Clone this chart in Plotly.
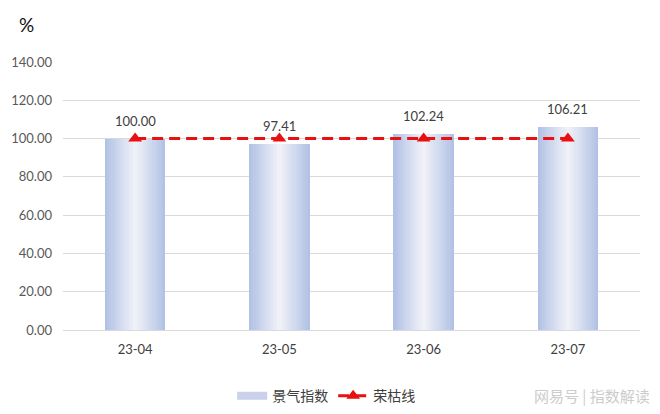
import plotly.graph_objects as go

categories = ["23-04", "23-05", "23-06", "23-07"]
index_values = [100.00, 97.41, 102.24, 106.21]
threshold_values = [100, 100, 100, 100]
y_ticks = [0, 20, 40, 60, 80, 100, 120, 140]
bar_name = "景气指数"
line_name = "荣枯线"

NUM_FONT = "Lato, 'Noto Sans CJK SC', sans-serif"
CJK_FONT = "'Noto Sans CJK SC', sans-serif"

fig = go.Figure()

# gradient bars: overlaid layers, darker at the edges, lighter at the centre
edge = (178, 194, 230)
centre = (240, 241, 247)
n_layers = 14
full_w = 0.42
for i in range(n_layers):
    t = i / (n_layers - 1)
    r = round(edge[0] + (centre[0] - edge[0]) * t)
    g = round(edge[1] + (centre[1] - edge[1]) * t)
    b = round(edge[2] + (centre[2] - edge[2]) * t)
    w = full_w * (1 - t * 0.93)
    fig.add_trace(go.Bar(
        x=categories, y=index_values, width=w,
        marker=dict(color=f"rgb({r},{g},{b})", line=dict(width=0)),
        name=bar_name, showlegend=False, legendgroup="bar",
    ))

# legend entry for the bars (wide light-blue swatch)
fig.add_trace(go.Scatter(
    x=[None], y=[None], mode="lines", name=bar_name, legendgroup="bar",
    line=dict(color="#c9d2ea", width=8),
))

fig.add_trace(go.Scatter(
    x=categories, y=threshold_values, mode="lines+markers", name=line_name,
    line=dict(color="#e81010", width=3, dash="11px,6px"),
    marker=dict(symbol="triangle-up", size=12, color="#e81010"),
))

for c, v in zip(categories, index_values):
    fig.add_annotation(x=c, y=v, text=f"{v:.2f}", showarrow=False,
                       yanchor="bottom", yshift=8,
                       font=dict(family=NUM_FONT, size=13, color="#404040"))

fig.add_annotation(xref="paper", yref="paper", x=-0.08, y=1.09, xanchor="left",
                   yanchor="bottom", text="%", showarrow=False,
                   font=dict(family=NUM_FONT, size=19, color="#111111"))
fig.add_annotation(xref="paper", yref="paper", x=1.021, y=-0.245, xanchor="right",
                   yanchor="middle", text="网易号 | 指数解读", showarrow=False,
                   font=dict(family=CJK_FONT, size=15, color="#cccccc"))

fig.update_layout(
    width=652, height=406,
    margin=dict(l=55, r=20, t=54, b=84, autoexpand=False),
    paper_bgcolor="white", plot_bgcolor="white",
    barmode="overlay", bargap=0,
    showlegend=True,
    legend=dict(orientation="h", xref="container", yref="container",
                x=0.488, xanchor="center", y=0.044, yanchor="middle",
                font=dict(family=CJK_FONT, size=14, color="#404040"),
                itemwidth=30, tracegroupgap=0),
    xaxis=dict(type="category", showgrid=False, showline=False, ticks="",
               automargin=False, ticklabelstandoff=10,
               tickfont=dict(family=NUM_FONT, size=13, color="#404040")),
    yaxis=dict(range=[0, 140], tickvals=y_ticks, automargin=False,
               ticktext=[f"{t:.2f}" for t in y_ticks],
               showgrid=True, gridcolor="#d9d9d9", gridwidth=1,
               zeroline=True, zerolinecolor="#d9d9d9", zerolinewidth=1,
               showline=False, ticks="", ticklabelstandoff=10,
               tickfont=dict(family=NUM_FONT, size=13, color="#595959")),
)

fig.write_html("out.html")
